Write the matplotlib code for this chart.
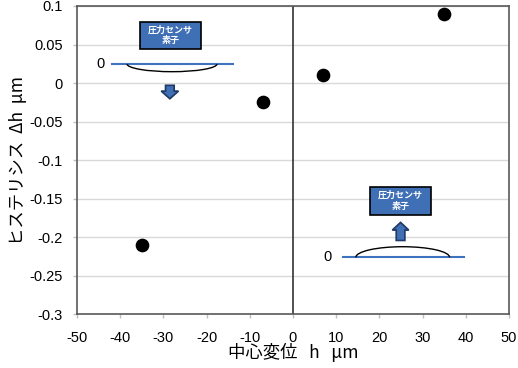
import matplotlib.pyplot as plt
from matplotlib.patches import FancyArrow, Arc

plt.rcParams['font.family'] = ['Liberation Sans', 'Noto Sans CJK JP', 'DejaVu Sans']

# data
center_disp = [-35, -7, 7, 35]
hysteresis = [-0.21, -0.025, 0.01, 0.09]

x_ticks = [-50, -40, -30, -20, -10, 0, 10, 20, 30, 40, 50]
y_ticks = [-0.3, -0.25, -0.2, -0.15, -0.1, -0.05, 0, 0.05, 0.1]
y_tick_labels = ['-0.3', '-0.25', '-0.2', '-0.15', '-0.1', '-0.05', '0', '0.05', '0.1']

fig = plt.figure(figsize=(5.18, 3.68), dpi=100)
ax = fig.add_axes([0.1486, 0.1467, 0.8340, 0.8370])

for yv in y_ticks:
    ax.axhline(yv, color='#d9d9d9', lw=1, zorder=0)
ax.axvline(0, color='#333333', lw=1.2, zorder=1)

ax.scatter(center_disp, hysteresis, s=78, color='black', zorder=3)

ax.set_xlim(-50, 50)
ax.set_ylim(-0.3, 0.1)
ax.set_xticks(x_ticks)
ax.set_xticklabels([str(v) for v in x_ticks])
ax.set_yticks(y_ticks)
ax.set_yticklabels(y_tick_labels)
ax.tick_params(axis='both', labelsize=10.5, colors='black', length=3, color='#bfbfbf', width=1)
ax.tick_params(axis='x', pad=9)
ax.tick_params(axis='y', pad=7)
for s in ax.spines.values():
    s.set_color('#595959')
    s.set_linewidth(1.2)

jp = ['Noto Sans CJK JP', 'DejaVu Sans']
ax.set_xlabel('中心変位   h   μm', fontsize=12.5, family=jp, labelpad=-1)
ax.set_ylabel('ヒステリシス  Δh  μm', fontsize=12.5, family=jp, labelpad=2)

box_col = '#3f6fb5'

# upper-left schematic: sensor pressed down
ax.add_patch(plt.Rectangle((-35.4, 0.0442), 14.1, 0.0354, facecolor=box_col,
                           edgecolor='black', lw=1.2, zorder=4))
ax.text(-28.35, 0.062, '圧力センサ\n素子', ha='center', va='center', color='white',
        fontsize=6.5, fontweight='bold', family=jp, zorder=5, linespacing=1.3)
ax.plot([-41.9, -13.9], [0.0247, 0.0247], color='#3f72c0', lw=1.5, zorder=4)
ax.text(-44.5, 0.0247, '0', ha='center', va='center', fontsize=10.5)
ax.add_patch(Arc((-28.0, 0.0247), 20.8, 0.02, theta1=180, theta2=360, color='black', lw=1, zorder=4))
ax.add_patch(FancyArrow(-28.5, -0.003, 0, -0.0175, width=2.0, head_width=4.0, head_length=0.01,
                        length_includes_head=True, facecolor=box_col, edgecolor='#1f3864', lw=1.2, zorder=4))

# lower-right schematic: sensor released up
ax.add_patch(plt.Rectangle((17.8, -0.1714), 14.1, 0.0367, facecolor=box_col,
                           edgecolor='black', lw=1.2, zorder=4))
ax.text(24.85, -0.153, '圧力センサ\n素子', ha='center', va='center', color='white',
        fontsize=6.5, fontweight='bold', family=jp, zorder=5, linespacing=1.3)
ax.plot([11.6, 39.6], [-0.2264, -0.2264], color='#3f72c0', lw=1.5, zorder=4)
ax.text(8.1, -0.2264, '0', ha='center', va='center', fontsize=10.5)
ax.add_patch(Arc((25.4, -0.2264), 21.7, 0.0276, theta1=0, theta2=180, color='black', lw=1, zorder=4))
ax.add_patch(FancyArrow(24.9, -0.2045, 0, 0.0235, width=2.0, head_width=3.8, head_length=0.01,
                        length_includes_head=True, facecolor=box_col, edgecolor='#1f3864', lw=1.2, zorder=4))

fig.savefig('out.png', dpi=100)
